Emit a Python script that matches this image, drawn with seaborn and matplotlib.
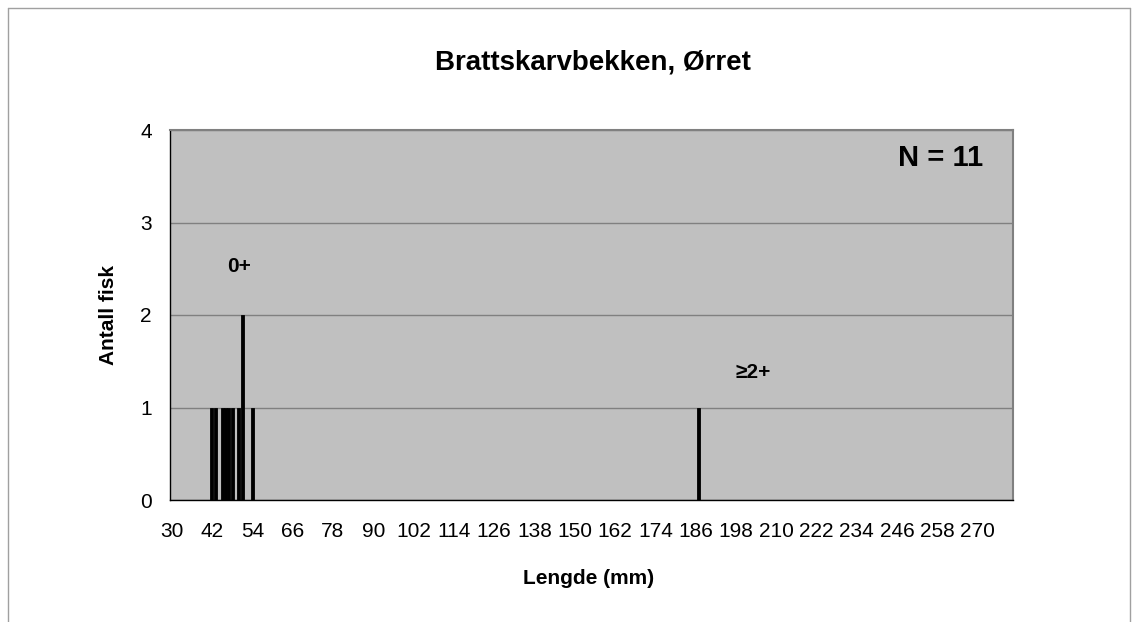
import numpy as np
import pandas as pd
import seaborn as sns
import matplotlib.pyplot as plt
from matplotlib.lines import Line2D

# Length categories (mm) shown on the axis and observed fish counts
length_min = 30
length_max = 280
fish_lengths = [42, 43, 45, 46, 47, 48, 50, 51, 54, 187]
fish_counts = [1, 1, 1, 1, 1, 1, 1, 2, 1, 1]
tick_step = 12

title = "Brattskarvbekken, Ørret"
xlabel = "Lengde (mm)"
ylabel = "Antall fisk"

sns.set_style("white")
plt.rcParams['font.family'] = ['Liberation Sans', 'DejaVu Sans']
plt.rcParams['text.color'] = 'black'
plt.rcParams['axes.labelcolor'] = 'black'
plt.rcParams['xtick.color'] = 'black'
plt.rcParams['ytick.color'] = 'black'

# Full category axis, zero where no fish
categories = list(range(length_min, length_max + 1))
count_map = dict(zip(fish_lengths, fish_counts))
df = pd.DataFrame({
    "Lengde": categories,
    "Antall": [count_map.get(c, 0) for c in categories],
})
df["Lengde"] = df["Lengde"].astype(str)

fig = plt.figure(figsize=(11.33, 6.22), dpi=100)
ax = fig.add_axes([170 / 1133, 1 - 500 / 622, (1013 - 170) / 1133, (500 - 130) / 622])

sns.barplot(
    data=df,
    x="Lengde",
    y="Antall",
    order=[str(c) for c in categories],
    color="black",
    saturation=1,
    width=0.9,
    edgecolor="black",
    linewidth=0.6,
    ax=ax,
)

ax.set_facecolor("#C0C0C0")
ax.set_ylim(0, 4)
ax.set_xlim(-0.5, len(categories) - 0.5)
ax.set_yticks([0, 1, 2, 3, 4])
ax.yaxis.grid(True, color="#808080", linewidth=1)
ax.set_axisbelow(True)

# category ticks every mm, labels every 12 mm
ax.set_xticks(range(0, len(categories), tick_step))
ax.set_xticklabels([str(c) for c in categories[::tick_step]], fontsize=15)
ax.set_xticks(range(len(categories)), minor=True)
ax.tick_params(axis="x", which="both", direction="out", length=4, width=0.8, color="#404040", pad=12)
ax.tick_params(axis="y", direction="out", length=5, width=0.8, color="#404040", labelsize=15, pad=8)

for side in ["top", "right"]:
    ax.spines[side].set_color("#808080")
    ax.spines[side].set_linewidth(1.5)
for side in ["left", "bottom"]:
    ax.spines[side].set_color("black")
    ax.spines[side].set_linewidth(1)

ax.set_xlabel(xlabel, fontsize=15, fontweight="bold")
ax.set_ylabel(ylabel, fontsize=15, fontweight="bold")
ax.xaxis.set_label_coords(0.497, -0.186)
ax.yaxis.set_label_coords(-0.062, 0.5)
fig.text(593 / 1133, 1 - 63 / 622, title, ha="center", va="center", fontsize=20, fontweight="bold")

# annotations in data coordinates
ax.text(categories.index(50), 2.52, "0+", ha="center", va="center", fontsize=15, fontweight="bold")
ax.text(categories.index(203), 1.38, "≥2+", ha="center", va="center", fontsize=15, fontweight="bold")
ax.text(categories.index(259), 3.7, "N = 11", ha="center", va="center", fontsize=21, fontweight="bold")

# chart area border (left, top, right)
for xs, ys in [([8, 8], [8, 622]), ([8, 1130], [8, 8]), ([1130, 1130], [8, 622])]:
    fig.add_artist(Line2D([x / 1133 for x in xs], [1 - y / 622 for y in ys],
                          color="#A0A0A0", linewidth=1, transform=fig.transFigure))

fig.savefig("out.png", dpi=100)
